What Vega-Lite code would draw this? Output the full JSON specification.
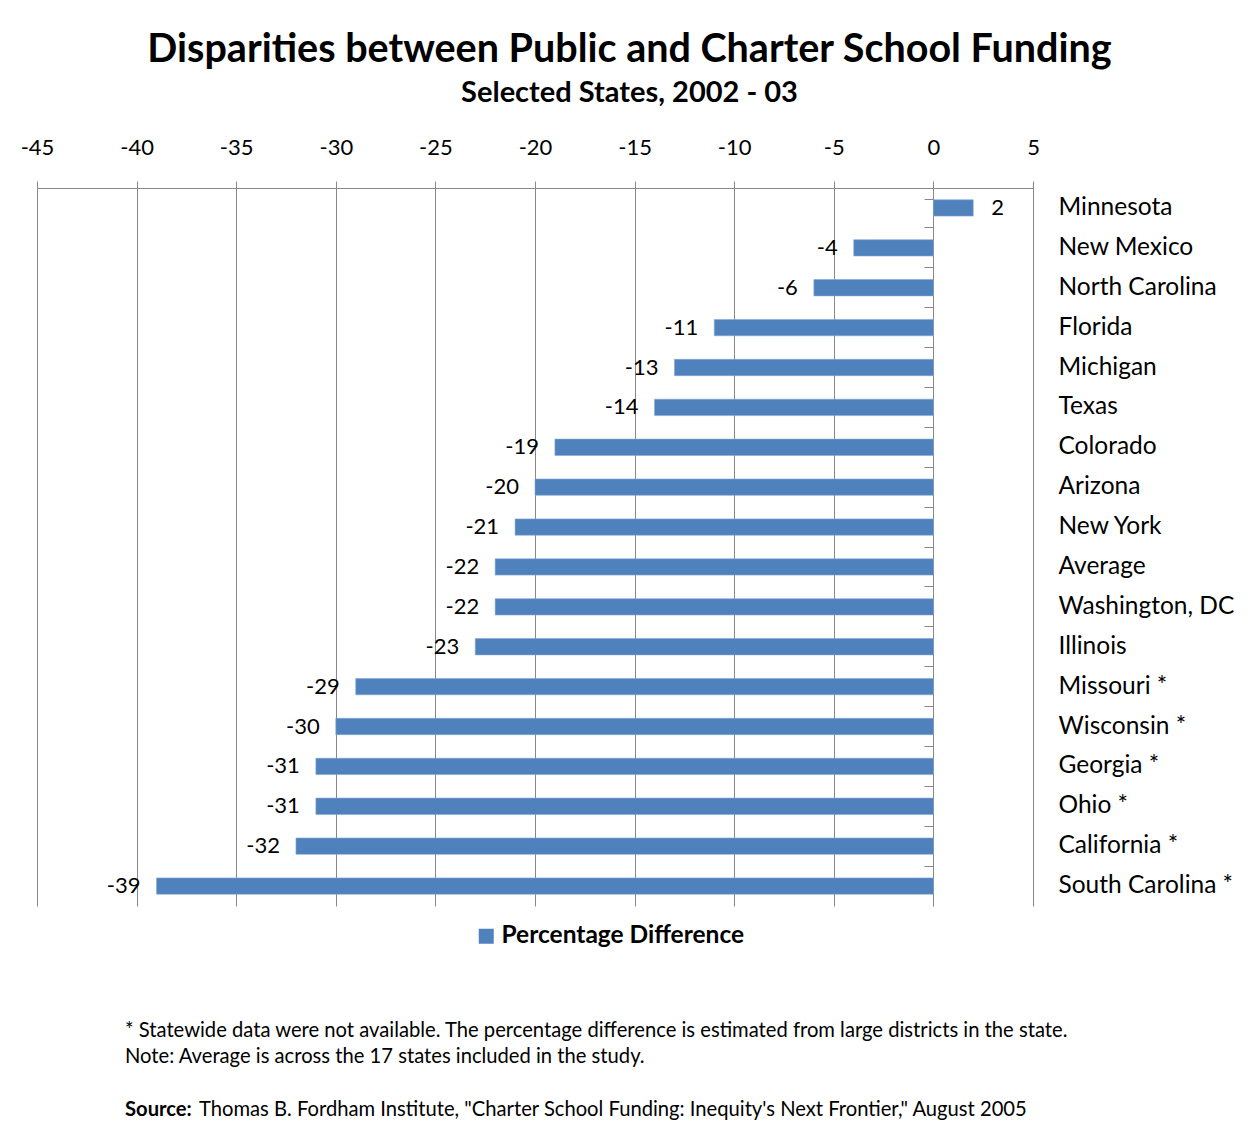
{
  "$schema": "https://vega.github.io/schema/vega-lite/v6.json",
  "background": "white",
  "padding": {"left": 20, "top": 29, "right": 4, "bottom": 10},
  "bounds": "flush",
  "spacing": 125,
  "config": {"font": "Lato", "view": {"stroke": null}},
  "title": {
    "text": "Disparities between Public and Charter School Funding",
    "subtitle": "Selected States, 2002 - 03",
    "anchor": "middle",
    "font": "Lato",
    "fontSize": 39.5,
    "fontWeight": "bold",
    "color": "#000000",
    "subtitleFont": "Lato",
    "subtitleFontSize": 29,
    "subtitleFontWeight": "bold",
    "subtitleColor": "#000000",
    "subtitlePadding": 9,
    "offset": 27
  },
  "vconcat": [
    {
      "width": 996,
      "height": 718,
      "data": {
        "values": [
          {"state": "Minnesota", "pct": 2},
          {"state": "New Mexico", "pct": -4},
          {"state": "North Carolina", "pct": -6},
          {"state": "Florida", "pct": -11},
          {"state": "Michigan", "pct": -13},
          {"state": "Texas", "pct": -14},
          {"state": "Colorado", "pct": -19},
          {"state": "Arizona", "pct": -20},
          {"state": "New York", "pct": -21},
          {"state": "Average", "pct": -22},
          {"state": "Washington, DC", "pct": -22},
          {"state": "Illinois", "pct": -23},
          {"state": "Missouri *", "pct": -29},
          {"state": "Wisconsin *", "pct": -30},
          {"state": "Georgia *", "pct": -31},
          {"state": "Ohio *", "pct": -31},
          {"state": "California *", "pct": -32},
          {"state": "South Carolina  *", "pct": -39}
        ]
      },
      "encoding": {
        "x": {
          "field": "pct",
          "type": "quantitative",
          "scale": {"domain": [-45, 5], "nice": false, "zero": false},
          "axis": {
            "orient": "top",
            "title": null,
            "values": [-45, -40, -35, -30, -25, -20, -15, -10, -5, 0, 5],
            "labelExpr": "'' + datum.value",
            "labelFlush": false,
            "grid": true,
            "gridColor": "#888888",
            "gridWidth": 1,
            "domainColor": "#888888",
            "tickColor": "#888888",
            "tickSize": 7,
            "labelFontSize": 22,
            "labelColor": "#000000",
            "labelPadding": 22,
            "labelFont": "Lato"
          }
        }
      },
      "resolve": {"axis": {"y": "independent"}},
      "layer": [
        {
          "mark": {"type": "bar", "color": "#4F81BD", "stroke": "#86A7D3", "strokeWidth": 0.6},
          "encoding": {
            "y": {
              "field": "state",
              "type": "nominal",
              "sort": null,
              "scale": {"paddingInner": 0.59, "paddingOuter": 0.295},
              "axis": {
                "orient": "left",
                "offset": -896,
                "title": null,
                "labels": false,
                "grid": false,
                "domainColor": "#888888",
                "tickColor": "#888888",
                "tickSize": 9,
                "bandPosition": -0.7195,
                "tickExtra": true
              }
            },
            "color": {
              "datum": "Percentage Difference",
              "scale": {"range": ["#4F81BD"]},
              "legend": {
                "orient": "none",
                "legendX": 437,
                "legendY": 736,
                "title": null,
                "padding": 0,
                "symbolType": "square",
                "symbolSize": 225,
                "symbolStrokeWidth": 0,
                "symbolOpacity": 1,
                "labelFontSize": 24.5,
                "labelFontWeight": "bold",
                "labelColor": "#000000",
                "labelFont": "Lato",
                "labelOffset": 3,
                "labelLimit": 0
              }
            }
          }
        },
        {
          "transform": [{"filter": "datum.pct < 0"}],
          "mark": {"type": "text", "align": "right", "baseline": "middle", "dx": -16, "fontSize": 22, "color": "#000000", "font": "Lato"},
          "encoding": {
            "y": {
              "field": "state",
              "type": "nominal",
              "sort": null,
              "axis": {
                "orient": "right",
                "title": null,
                "domain": false,
                "ticks": false,
                "grid": false,
                "labelAlign": "left",
                "labelPadding": 25,
                "labelFontSize": 24.5,
                "labelColor": "#000000",
                "labelFont": "Lato",
                "labelLimit": 0
              }
            },
            "text": {"field": "pct", "type": "nominal"}
          }
        },
        {
          "transform": [{"filter": "datum.pct >= 0"}],
          "mark": {"type": "text", "align": "left", "baseline": "middle", "dx": 18, "fontSize": 22, "color": "#000000", "font": "Lato"},
          "encoding": {
            "y": {"field": "state", "type": "nominal", "sort": null, "axis": null},
            "text": {"field": "pct", "type": "nominal"}
          }
        }
      ]
    },
    {
      "width": 996,
      "height": 79,
      "data": {
        "values": [
          {"line": 1, "part": "note", "note": "* Statewide data were not available.  The percentage difference is estimated from large districts in the state."},
          {"line": 2, "part": "note", "note": "Note: Average is across the 17 states included in the study."},
          {"line": 4, "part": "label", "note": "Source:"},
          {"line": 4, "part": "source", "note": "Thomas B. Fordham Institute, \"Charter School Funding: Inequity's Next Frontier,\" August 2005"}
        ]
      },
      "encoding": {
        "x": {"datum": 0, "type": "quantitative", "scale": {"domain": [0, 1]}, "axis": null},
        "y": {"field": "line", "type": "quantitative", "scale": {"domain": [1, 4], "reverse": true}, "axis": null},
        "text": {"field": "note", "type": "nominal"}
      },
      "layer": [
        {
          "transform": [{"filter": "datum.part == 'note'"}],
          "mark": {"type": "text", "align": "left", "baseline": "middle", "dx": 88, "fontSize": 20.2, "color": "#000000", "font": "Lato"}
        },
        {
          "transform": [{"filter": "datum.part == 'label'"}],
          "mark": {"type": "text", "align": "left", "baseline": "middle", "dx": 88, "fontSize": 20.2, "fontWeight": "bold", "color": "#000000", "font": "Lato"}
        },
        {
          "transform": [{"filter": "datum.part == 'source'"}],
          "mark": {"type": "text", "align": "left", "baseline": "middle", "dx": 162, "fontSize": 20.2, "color": "#000000", "font": "Lato"}
        }
      ]
    }
  ]
}
